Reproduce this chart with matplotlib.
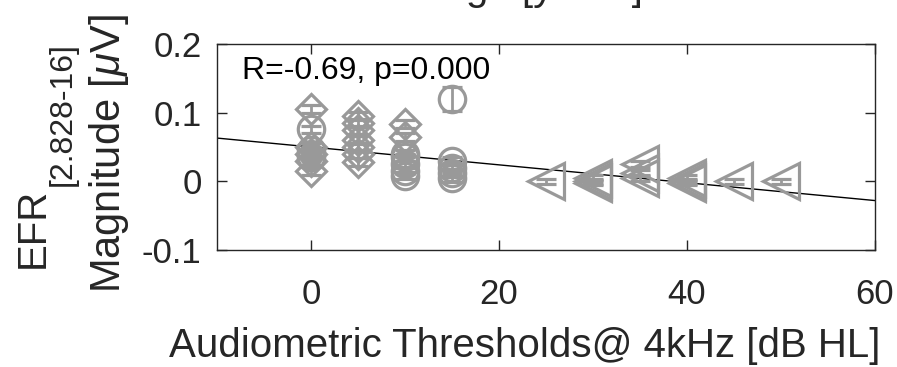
import numpy as np
import matplotlib
matplotlib.use('Agg')
import matplotlib.pyplot as plt

plt.rcParams['font.family'] = 'Liberation Sans'
plt.rcParams['mathtext.fontset'] = 'custom'
plt.rcParams['mathtext.rm'] = 'Liberation Sans'
plt.rcParams['mathtext.it'] = 'Liberation Sans:italic'

# Data
# diamonds (young group)
dia_x = [0, 0, 0, 0, 0, 5, 5, 5, 5, 5, 5, 5, 10, 10]
dia_y = [0.105, 0.050, 0.040, 0.030, 0.015,
         0.095, 0.085, 0.075, 0.060, 0.050, 0.040, 0.028,
         0.083, 0.065]
dia_e = [0.006] * len(dia_x)

# circles (middle group)
cir_x = [0, 0, 0, 10, 10, 10, 10, 10, 15, 15, 15, 15, 15]
cir_y = [0.076, 0.045, 0.035,
         0.040, 0.035, 0.025, 0.015, 0.008,
         0.120, 0.030, 0.020, 0.012, 0.005]
cir_e = [0.005, 0.005, 0.005, 0.005, 0.005, 0.005, 0.005, 0.005,
         0.018, 0.006, 0.006, 0.006, 0.006]

# left triangles (older group)
tri_x = [25, 30, 30, 30, 35, 35, 35, 40, 40, 40, 45, 50]
tri_y = [0.000, 0.005, 0.000, -0.002, 0.025, 0.012, 0.005,
         0.005, 0.000, -0.002, 0.000, 0.000]
tri_e = [0.004] * len(tri_x)

# regression line end points
fit_x = [-10, 60]
fit_y = [0.063, -0.028]

stat_text = 'R=-0.69, p=0.000'
xticks = [0, 20, 40, 60]
yticks = [-0.1, 0, 0.1, 0.2]
ytick_labels = ['-0.1', '0', '0.1', '0.2']

grey = (0.6, 0.6, 0.6)
ink = '#262626'

fig = plt.figure(figsize=(8.97, 3.67), dpi=100)
ax = fig.add_axes([217/897, 1 - 250/367, (875-217)/897, (250-44)/367])

ax.plot(fit_x, fit_y, color='black', lw=1.0, zorder=1)

common = dict(ls='none', mfc='none', mec=grey, ecolor=grey,
              elinewidth=2.0, capthick=2.0, mew=2.3, zorder=2)
ax.errorbar(dia_x, dia_y, yerr=dia_e, fmt='D', ms=15, capsize=7, **common)
ax.errorbar(cir_x, cir_y, yerr=cir_e, fmt='o', ms=19, capsize=7, **common)
ax.errorbar(tri_x, tri_y, yerr=tri_e, fmt='<', ms=26, capsize=7, **common)

ax.text(-7.3, 0.16, stat_text, fontsize=23, va='center', ha='left')

ax.set_xlim(-10, 60)
ax.set_ylim(-0.1, 0.2)
ax.set_xticks(xticks)
ax.set_yticks(yticks)
ax.set_yticklabels(ytick_labels)
ax.tick_params(direction='in', length=7, width=1, top=True, right=True,
               labelsize=25, colors=ink)
ax.tick_params(axis='x', pad=20)
ax.tick_params(axis='y', pad=11)
for sp in ax.spines.values():
    sp.set_color(ink)
    sp.set_linewidth(1)

ax.set_xlabel('Audiometric Thresholds@ 4kHz [dB HL]', fontsize=29,
              color=ink, labelpad=12)
ax.xaxis.label.set_x((525 - 217) / 658)

# two-line y label, EFR with its subscript drawn as separate texts
fig.text(33/897, 1 - 228/367, 'EFR', rotation=90,
         fontsize=29, color=ink, ha='center', va='center')
fig.text(63/897, 1 - 114/367, '[2.828-16]', rotation=90,
         fontsize=23, color=ink, ha='center', va='center')
fig.text(109/897, 1 - 154/367, r'Magnitude [$\mu$V]', rotation=90,
         fontsize=30, color=ink, ha='center', va='center')

# title cut off at the top of the figure, only its lower edge shows
fig.text(541/897, 1.0, 'Age [years]', fontsize=29, color=ink,
         ha='center', va='baseline')

fig.savefig('out.png', dpi=100)
